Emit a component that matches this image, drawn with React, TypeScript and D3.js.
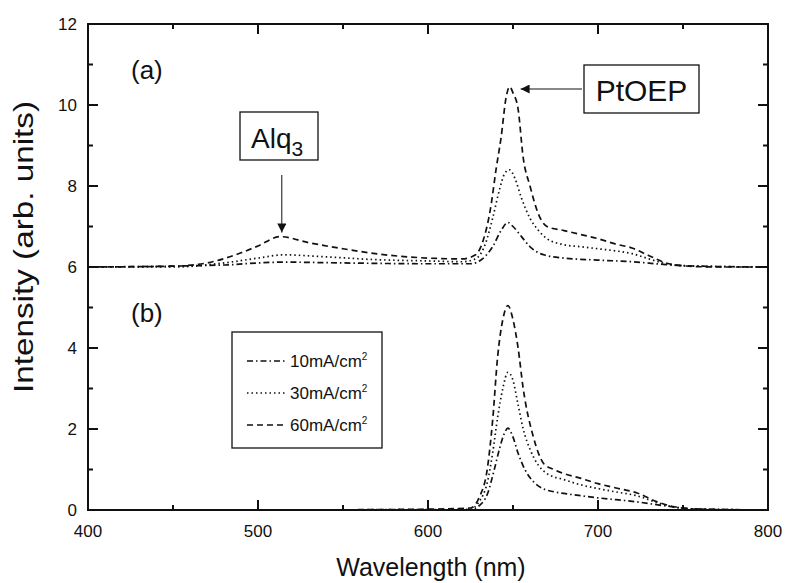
import { useEffect, useRef } from "react";
import * as d3 from "d3";

// spectra, [wavelength nm, intensity]
// panel (a): plotted with the +6 offset as in the figure
const a10: [number, number][] = [
  [400, 6.0], [480, 6.05], [500, 6.1], [515, 6.12], [550, 6.1], [600, 6.08], [625, 6.08],
  [632, 6.2], [638, 6.5], [643, 6.9], [647, 7.1], [650, 7.0], [655, 6.75], [660, 6.5],
  [665, 6.35], [670, 6.28], [680, 6.22], [700, 6.17], [720, 6.13], [740, 6.06], [760, 6.02], [800, 6.0],
];
const a30: [number, number][] = [
  [400, 6.0], [450, 6.0], [480, 6.1], [500, 6.22], [515, 6.3], [540, 6.25], [570, 6.18],
  [600, 6.15], [620, 6.13], [628, 6.2], [634, 6.6], [638, 7.2], [642, 7.9], [645, 8.3],
  [648, 8.4], [651, 8.2], [655, 7.7], [660, 7.2], [665, 6.9], [670, 6.7], [680, 6.55],
  [690, 6.5], [700, 6.45], [710, 6.4], [720, 6.33], [730, 6.2], [740, 6.08], [750, 6.03], [800, 6.0],
];
const a60: [number, number][] = [
  [400, 6.0], [450, 6.02], [470, 6.1], [490, 6.35], [500, 6.52], [513, 6.75], [530, 6.6],
  [550, 6.45], [575, 6.3], [600, 6.22], [620, 6.2], [628, 6.3], [632, 6.6], [637, 7.5],
  [640, 8.4], [643, 9.2], [646, 10.2], [648, 10.45], [650, 10.3], [653, 9.9], [656, 8.7],
  [660, 8.0], [665, 7.3], [670, 7.0], [680, 6.9], [690, 6.8], [700, 6.7], [710, 6.57],
  [720, 6.47], [730, 6.28], [740, 6.1], [750, 6.03], [770, 6.0], [800, 6.0],
];
// panel (b)
const b10: [number, number][] = [
  [400, 0], [600, 0], [625, 0], [630, 0.1], [635, 0.4], [639, 1.0], [642, 1.5], [645, 1.9],
  [647, 2.02], [650, 1.8], [653, 1.4], [657, 1.0], [662, 0.7], [668, 0.52], [674, 0.45],
  [685, 0.38], [700, 0.3], [723, 0.2], [740, 0.1], [755, 0.03], [800, 0],
];
const b30: [number, number][] = [
  [400, 0], [600, 0.01], [625, 0.02], [630, 0.2], [635, 0.7], [638, 1.4], [641, 2.3],
  [644, 3.0], [647, 3.4], [650, 3.2], [653, 2.6], [656, 2.0], [660, 1.5], [665, 1.1],
  [670, 0.9], [680, 0.75], [690, 0.62], [700, 0.53], [710, 0.45], [723, 0.35], [735, 0.18],
  [745, 0.07], [760, 0.02], [800, 0],
];
const b60: [number, number][] = [
  [400, 0], [500, 0], [600, 0.02], [625, 0.05], [630, 0.3], [635, 1.05], [638, 2.2],
  [641, 3.8], [644, 4.7], [647, 5.05], [650, 4.7], [653, 4.0], [656, 3.0], [662, 1.8],
  [668, 1.15], [674, 1.0], [690, 0.78], [700, 0.65], [710, 0.55], [723, 0.42], [735, 0.2],
  [745, 0.08], [760, 0.02], [800, 0],
];

const legendLabels = ["10mA/cm", "30mA/cm", "60mA/cm"];
const xTicks = [400, 500, 600, 700, 800];
const xMinor = [450, 550, 650, 750];
const yTicks = [0, 2, 4, 6, 8, 10, 12];
const yMinor = [1, 3, 5, 7, 9, 11];

const W = 786;
const H = 583;
const ink = "#111111";
const FONT = "'Liberation Sans', Arial, sans-serif";

export default function App() {
  const ref = useRef<SVGSVGElement | null>(null);

  useEffect(() => {
    const svg = d3.select(ref.current);
    svg.selectAll("*").remove();

    const m = { left: 88, right: 18, top: 24, bottom: 73 };
    const iw = W - m.left - m.right;
    const ih = H - m.top - m.bottom;

    const x = d3.scaleLinear().domain([400, 800]).range([0, iw]);
    const y = d3.scaleLinear().domain([0, 12]).range([ih, 0]);

    const g = svg.append("g").attr("transform", `translate(${m.left},${m.top})`);

    g.append("rect")
      .attr("width", iw).attr("height", ih)
      .attr("fill", "none").attr("stroke", ink).attr("stroke-width", 2);

    // ticks, all pointing inward on the four sides
    const xt = xTicks.map((v) => ({ v, len: 10 })).concat(xMinor.map((v) => ({ v, len: 5 })));
    const yt = yTicks.map((v) => ({ v, len: 10 })).concat(yMinor.map((v) => ({ v, len: 5 })));
    let tickPath = "";
    xt.forEach((t) => {
      const px = x(t.v);
      tickPath += `M${px},${ih}V${ih - t.len}M${px},0V${t.len}`;
    });
    yt.forEach((t) => {
      const py = y(t.v);
      tickPath += `M0,${py}H${t.len}M${iw},${py}H${iw - t.len}`;
    });
    g.append("path")
      .attr("d", tickPath)
      .attr("fill", "none")
      .attr("stroke", ink)
      .attr("stroke-width", 2);

    g.selectAll(".xlab").data(xTicks).enter().append("text")
      .attr("x", (d) => x(d)).attr("y", ih + 27)
      .attr("text-anchor", "middle")
      .style("font-family", FONT).style("font-size", "17px").attr("fill", ink)
      .text((d) => d3.format("d")(d));
    g.selectAll(".ylab").data(yTicks).enter().append("text")
      .attr("x", -11).attr("y", (d) => y(d)).attr("dy", "0.35em")
      .attr("text-anchor", "end")
      .style("font-family", FONT).style("font-size", "17px").attr("fill", ink)
      .text((d) => d3.format("d")(d));

    // curves
    const line = d3.line<[number, number]>()
      .x((d) => x(d[0]))
      .y((d) => y(d[1]))
      .curve(d3.curveMonotoneX);

    const dashes = ["6,3,1.5,3", "1.5,3", "6,4"];
    const series = [
      [a10, a30, a60],
      [b10, b30, b60],
    ];
    series.forEach((panel) => {
      panel.forEach((s, i) => {
        g.append("path")
          .datum(s)
          .attr("d", line)
          .attr("fill", "none")
          .attr("stroke", ink)
          .attr("stroke-width", 1.7)
          .attr("stroke-dasharray", dashes[i]);
      });
    });

    // panel labels
    svg.append("text").attr("x", 131).attr("y", 79)
      .style("font-family", FONT).style("font-size", "26px").attr("fill", ink).text("(a)");
    svg.append("text").attr("x", 131).attr("y", 322)
      .style("font-family", FONT).style("font-size", "26px").attr("fill", ink).text("(b)");

    // annotation boxes and arrows
    svg.append("defs").append("marker")
      .attr("id", "arrow").attr("viewBox", "0 0 10 10")
      .attr("refX", 10).attr("refY", 5)
      .attr("markerWidth", 11).attr("markerHeight", 9)
      .attr("markerUnits", "userSpaceOnUse")
      .attr("orient", "auto")
      .append("path").attr("d", "M0,0 L10,5 L0,10 Z").attr("fill", ink);

    // Alq3
    svg.append("rect").attr("x", 240).attr("y", 112)
      .attr("width", 78).attr("height", 48)
      .attr("fill", "white").attr("stroke", ink).attr("stroke-width", 1.3);
    const alqText = svg.append("text").attr("x", 251).attr("y", 148)
      .style("font-family", FONT).style("font-size", "28px").attr("fill", ink);
    alqText.append("tspan").text("Alq");
    alqText.append("tspan").attr("dy", 8).style("font-size", "21px").text("3");
    svg.append("line")
      .attr("x1", m.left + x(514)).attr("x2", m.left + x(514))
      .attr("y1", 175).attr("y2", m.top + y(6.85))
      .attr("stroke", ink).attr("stroke-width", 1)
      .attr("marker-end", "url(#arrow)");

    // PtOEP
    svg.append("rect").attr("x", 584).attr("y", 65)
      .attr("width", 115).attr("height", 48)
      .attr("fill", "white").attr("stroke", ink).attr("stroke-width", 1.3);
    svg.append("text").attr("x", 641.5).attr("y", 101)
      .attr("text-anchor", "middle")
      .style("font-family", FONT).style("font-size", "30px").attr("fill", ink).text("PtOEP");
    svg.append("line")
      .attr("x1", 582).attr("x2", m.left + x(654.5))
      .attr("y1", 89).attr("y2", 89)
      .attr("stroke", ink).attr("stroke-width", 1)
      .attr("marker-end", "url(#arrow)");

    // legend
    const lg = svg.append("g").attr("transform", "translate(232,332)");
    lg.append("rect").attr("width", 150).attr("height", 116)
      .attr("fill", "white").attr("stroke", ink).attr("stroke-width", 1.3);
    legendLabels.forEach((lab, i) => {
      const yy = 29 + i * 32;
      lg.append("line")
        .attr("x1", 15).attr("x2", 54).attr("y1", yy).attr("y2", yy)
        .attr("stroke", ink).attr("stroke-width", 1.5)
        .attr("stroke-dasharray", dashes[i]);
      const t = lg.append("text").attr("x", 58).attr("y", yy + 6)
        .style("font-family", FONT).style("font-size", "17px").attr("fill", ink);
      t.append("tspan").text(lab);
      t.append("tspan").attr("dy", -7).style("font-size", "10px").text("2");
    });

    // axis titles
    svg.append("text")
      .attr("transform", `translate(33,247) rotate(-90)`)
      .attr("text-anchor", "middle")
      .attr("textLength", 292)
      .attr("lengthAdjust", "spacingAndGlyphs")
      .style("font-family", FONT).style("font-size", "27px").attr("fill", ink)
      .text("Intensity (arb. units)");
    svg.append("text")
      .attr("x", 431).attr("y", 576)
      .attr("text-anchor", "middle")
      .style("font-family", FONT).style("font-size", "25px").attr("fill", ink)
      .text("Wavelength (nm)");
  }, []);

  return (
    <svg
      ref={ref}
      width={W}
      height={H}
      style={{ position: "absolute", left: 0, top: 0, background: "white" }}
    />
  );
}
